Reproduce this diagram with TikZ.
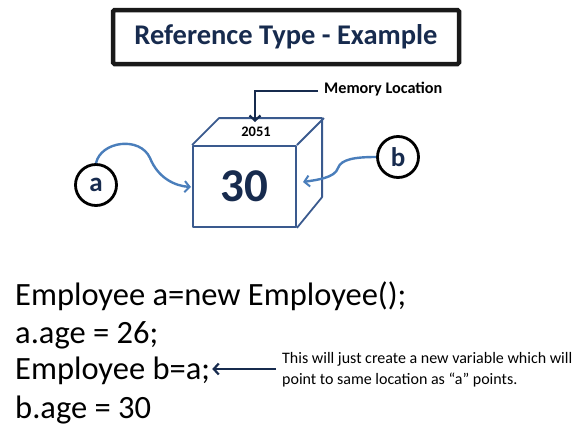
\documentclass[tikz,border=0pt]{standalone}
\usepackage{fontspec}
\setmainfont{Carlito}
\usetikzlibrary{arrows.meta}
\definecolor{navy}{RGB}{23,43,78}
\definecolor{cubec}{RGB}{58,90,142}
\definecolor{curvec}{RGB}{74,126,187}
\tikzset{
  codeline/.style={anchor=base west, inner sep=0pt, font=\fontsize{32.5}{36}\selectfont},
  varcircle/.style={circle, draw=black, line width=2.8pt, minimum size=41pt, inner sep=0pt,
    text=navy, font=\bfseries\fontsize{27}{30}\selectfont},
  curvearrow/.style={draw=curvec, line width=2.4pt, -{Straight Barb[length=5pt,width=11pt,line width=2pt]}},
  navyarrow/.style={draw=navy, line width=2.8pt, -{Straight Barb[length=5pt,width=11pt,line width=2.2pt]}},
  cubeline/.style={draw=cubec, line width=1.8pt, line join=round}
}
\begin{document}
\begin{tikzpicture}[x=1pt,y=-1pt]
\useasboundingbox (0,0) rectangle (583,439);
% title
\node[draw=black!90, line width=4.5pt, rounded corners=1.5pt, minimum width=346pt, minimum height=54pt,
  text=navy, font=\bfseries\fontsize{28.5}{32}\selectfont] (title) at (286,37) {Reference Type - Example};
% cube
\node[cubeline, draw, minimum width=103pt, minimum height=81pt, inner sep=0pt, text=navy,
  font=\bfseries\fontsize{47}{50}\selectfont] (front) at (244.5,186.5) {30};
\draw[cubeline] (front.north west) -- ++(27,-27) -- ++(103,0) -- ++(0,79) -- (front.south east);
\draw[cubeline] (front.north east) -- ++(27,-27);
\node[font=\bfseries\fontsize{14.5}{16}\selectfont, inner sep=0pt] (addr) at (256,132) {2051};
% memory location
\node[anchor=west, inner sep=0pt, text=black, font=\bfseries\fontsize{16.2}{18}\selectfont] (mem) at (324,89) {Memory Location};
\coordinate (loc) at (255,122);
\draw[navyarrow] ([xshift=-6pt,yshift=-2pt]mem.west) -| (loc);
% variables
\node[varcircle] (a) at (96,185) {a};
\node[varcircle] (b) at (398,157) {b};
\coordinate (atip) at (191,187);
\coordinate (btip) at (303,182);
\draw[curvearrow] (a.north) .. controls (101,141) and (140,136) .. (150,158)
  .. controls (158,178) and (175,186) .. (atip);
\draw[curvearrow] (b.west) .. controls (356,157) and (341,159) .. (338,168)
  .. controls (335,178) and (316,180) .. (btip);
% code
\node[codeline] (l1) at (15,305) {Employee a=new Employee();};
\node[codeline] (l2) at (15,343) {a.age = 26;};
\node[codeline] (l3) at (15,379) {Employee b=a;};
\node[codeline] (l4) at (15,418) {b.age = 30};
% annotation
\node[anchor=north west, inner sep=0pt, align=left, font=\fontsize{16}{21}\selectfont] (note) at (282,352)
  {This will just create a new variable which will\\point to same location as “a” points.};
\draw[navyarrow, line width=2.6pt] ([xshift=-6pt]note.west |- 0,369) -- ([xshift=2pt]l3.east |- 0,369);
\end{tikzpicture}
\end{document}
